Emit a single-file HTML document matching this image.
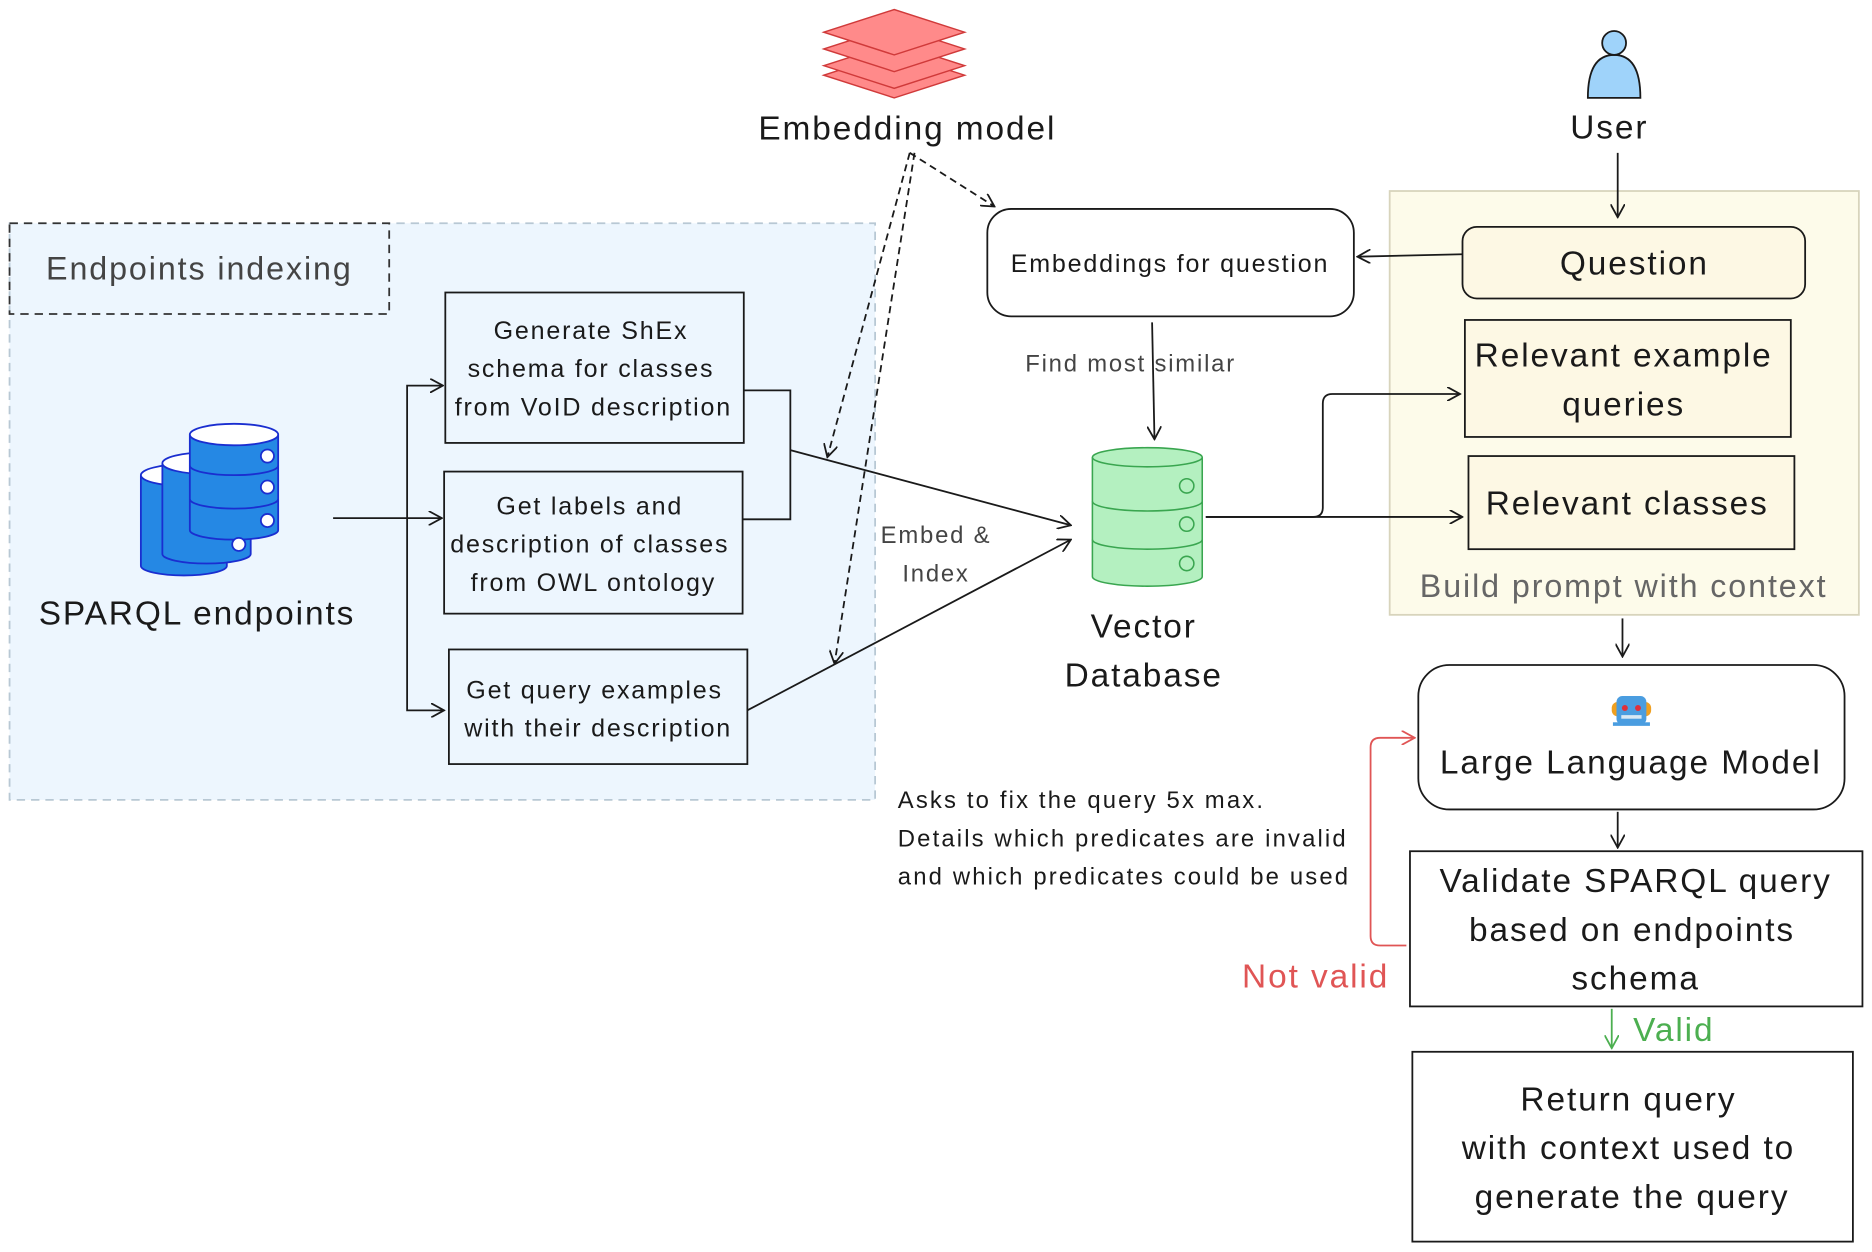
<!DOCTYPE html>
<html><head><meta charset="utf-8"><style>
html,body{margin:0;padding:0;background:#fff;}
svg{display:block;}
text{font-family:"Liberation Sans",sans-serif;fill:#1a1a1a;letter-spacing:1.6px;}
.s text, text.s{letter-spacing:1.5px;}
.t text{letter-spacing:1.8px;}
</style></head><body>
<svg width="1872" height="1252" viewBox="0 0 1568 1048.7" preserveAspectRatio="none" xmlns="http://www.w3.org/2000/svg">
<defs>
<marker id="a" viewBox="0 0 12 12" refX="11" refY="6" markerWidth="12" markerHeight="12" markerUnits="userSpaceOnUse" orient="auto"><path d="M0,0 L11,6 L0,12" fill="none" stroke="#1a1a1a" stroke-width="1.5"/></marker>
<marker id="r" viewBox="0 0 12 12" refX="11" refY="6" markerWidth="12" markerHeight="12" markerUnits="userSpaceOnUse" orient="auto"><path d="M0,0 L11,6 L0,12" fill="none" stroke="#e05555" stroke-width="1.5"/></marker>
<marker id="g" viewBox="0 0 12 12" refX="11" refY="6" markerWidth="12" markerHeight="12" markerUnits="userSpaceOnUse" orient="auto"><path d="M0,0 L11,6 L0,12" fill="none" stroke="#4caf50" stroke-width="1.5"/></marker>
</defs>

<rect x="8" y="187" width="725" height="483" fill="#edf6fe" stroke="#b8c8d4" stroke-width="1.5" stroke-dasharray="7,5"/>
<rect x="8" y="187" width="318" height="76" fill="none" stroke="#333" stroke-width="1.5" stroke-dasharray="7,5"/>
<text x="167" y="234" font-size="27" text-anchor="middle" style="fill:#444">Endpoints indexing</text>

<g stroke="#1a2ed0" stroke-width="1.5" fill="#2588e4">
 <path d="M118,398 v76 a36,8 0 0 0 72,0 v-76"/><ellipse cx="154" cy="398" rx="36" ry="9" fill="#fff"/>
 <path d="M136,388 v76 a37,8 0 0 0 74,0 v-76"/><ellipse cx="173" cy="388" rx="37" ry="9" fill="#fff"/>
 <path d="M159,364 v80 a37,8 0 0 0 74,0 v-80"/><ellipse cx="196" cy="364" rx="37" ry="9" fill="#fff"/>
 <path d="M159,390 a37,8 0 0 0 74,0 M159,418 a37,8 0 0 0 74,0" fill="none"/>
 <circle cx="224" cy="382" r="5.5" fill="#fff"/><circle cx="224" cy="408" r="5.5" fill="#fff"/><circle cx="224" cy="436" r="5.5" fill="#fff"/>
 <circle cx="200" cy="456" r="5.5" fill="#fff"/>
</g>
<text x="165" y="523" font-size="28" text-anchor="middle">SPARQL endpoints</text>

<g stroke="#1a1a1a" stroke-width="1.5" fill="none">
 <line x1="279" y1="434" x2="370" y2="434" marker-end="url(#a)"/>
 <path d="M341,434 V323 H371" marker-end="url(#a)"/>
 <path d="M341,434 V595 H372" marker-end="url(#a)"/>
 <path d="M623,327 H662 V435 H622"/>
 <line x1="662" y1="377" x2="897" y2="440" marker-end="url(#a)"/>
 <line x1="626" y1="595" x2="897" y2="452" marker-end="url(#a)"/>
</g>

<g fill="#edf6fe" stroke="#1a1a1a" stroke-width="1.5">
<rect x="373" y="245" width="250" height="126"/>
<rect x="372" y="395" width="250" height="119"/>
<rect x="376" y="544" width="250" height="96"/>
</g>
<g class="s" font-size="21" text-anchor="middle">
<text x="495" y="284">Generate ShEx</text><text x="495" y="316">schema for classes</text><text x="497" y="348">from VoID description</text>
<text x="494" y="431">Get labels and</text><text x="494" y="463">description of classes</text><text x="497" y="495">from OWL ontology</text>
<text x="498" y="585">Get query examples</text><text x="501" y="617">with their description</text>
</g>
<g class="s" font-size="20" text-anchor="middle"><text x="784" y="455" style="fill:#444">Embed &amp;</text><text x="784" y="487" style="fill:#444">Index</text></g>

<g fill="#ff8a8a" stroke="#d03a3a" stroke-width="1.2">
<path d="M690,63 L749,44 L808,63 L749,82 Z"/>
<path d="M690,55 L749,36 L808,55 L749,74 Z"/>
<path d="M690,41 L749,22 L808,41 L749,60 Z"/>
<path d="M690,27 L749,8 L808,27 L749,46 Z"/>
</g>
<text x="760" y="117" font-size="28" text-anchor="middle">Embedding model</text>
<g stroke="#1a1a1a" stroke-width="1.5" fill="none" stroke-dasharray="6,4">
<line x1="762" y1="128" x2="833" y2="173" marker-end="url(#a)"/>
<line x1="762" y1="128" x2="693" y2="383" marker-end="url(#a)"/>
<line x1="766" y1="128" x2="699" y2="556" marker-end="url(#a)"/>
</g>

<rect x="827" y="175" width="307" height="90" rx="20" fill="#fff" stroke="#1a1a1a" stroke-width="1.5"/>
<text class="s" x="980" y="228" font-size="21" text-anchor="middle">Embeddings for question</text>
<line x1="965" y1="270" x2="967" y2="368" stroke="#1a1a1a" stroke-width="1.5" marker-end="url(#a)"/>
<text class="s" x="947" y="311" font-size="20" text-anchor="middle" style="fill:#444">Find most similar</text>

<g fill="#b4f0c0" stroke="#3aa650" stroke-width="1.3">
<path d="M915,383 V483 a46,8 0 0 0 92,0 V383"/>
<ellipse cx="961" cy="383" rx="46" ry="8"/>
<path d="M915,420 a46,8 0 0 0 92,0 M915,452 a46,8 0 0 0 92,0" fill="none"/>
<circle cx="994" cy="407" r="6" fill="none"/><circle cx="994" cy="439" r="6" fill="none"/><circle cx="994" cy="472" r="6" fill="none"/>
</g>
<text x="958" y="534" font-size="28" text-anchor="middle">Vector</text>
<text x="958" y="575" font-size="28" text-anchor="middle">Database</text>

<rect x="1164" y="160" width="393" height="355" fill="#fdfbea" stroke="#d8d4bc" stroke-width="1.5"/>
<text x="1360" y="500" font-size="27" text-anchor="middle" style="fill:#666">Build prompt with context</text>

<g stroke="#1a1a1a" stroke-width="1.5" fill="none">
<line x1="1010" y1="433" x2="1225" y2="433" marker-end="url(#a)"/>
<path d="M1010,433 H1100 Q1108,433 1108,425 V338 Q1108,330 1116,330 H1223" marker-end="url(#a)"/>
<line x1="1225" y1="213" x2="1137" y2="215" marker-end="url(#a)"/>
<line x1="1355" y1="128" x2="1355" y2="182" marker-end="url(#a)"/>
<line x1="1359" y1="518" x2="1359" y2="550" marker-end="url(#a)"/>
<line x1="1355" y1="680" x2="1355" y2="710" marker-end="url(#a)"/>
</g>

<g fill="#9fd3fa" stroke="#1a1a1a" stroke-width="1.5">
<path d="M1330,82 Q1330,46 1352,46 Q1374,46 1374,82 Z"/>
<circle cx="1352" cy="36" r="10"/>
</g>
<text x="1348" y="116" font-size="28" text-anchor="middle">User</text>

<rect x="1225" y="190" width="287" height="60" rx="12" fill="#fdf8e4" stroke="#1a1a1a" stroke-width="1.5"/>
<text x="1369" y="230" font-size="28" text-anchor="middle">Question</text>
<rect x="1227" y="268" width="273" height="98" fill="#fdf8e4" stroke="#1a1a1a" stroke-width="1.5"/>
<text x="1360" y="307" font-size="28" text-anchor="middle">Relevant example</text>
<text x="1360" y="348" font-size="28" text-anchor="middle">queries</text>
<rect x="1230" y="382" width="273" height="78" fill="#fdf8e4" stroke="#1a1a1a" stroke-width="1.5"/>
<text x="1363" y="431" font-size="28" text-anchor="middle">Relevant classes</text>

<rect x="1188" y="557" width="357" height="121" rx="26" fill="#fff" stroke="#1a1a1a" stroke-width="1.5"/>
<g>
<rect x="1350" y="588" width="33" height="12" rx="5" fill="#f0a020"/>
<rect x="1354" y="583" width="25" height="24" rx="5" fill="#4a9de0"/>
<circle cx="1361" cy="593" r="2.5" fill="#e0303a"/><circle cx="1372" cy="593" r="2.5" fill="#e0303a"/>
<rect x="1358" y="599" width="17" height="3" fill="#d8e8f4"/>
<rect x="1351" y="605" width="31" height="3" fill="#4a9de0"/>
</g>
<text x="1366" y="648" font-size="28" text-anchor="middle">Large Language Model</text>

<rect x="1181" y="713" width="379" height="130" fill="#fff" stroke="#1a1a1a" stroke-width="1.5"/>
<text x="1370" y="747" font-size="28" text-anchor="middle">Validate SPARQL query</text>
<text x="1367" y="788" font-size="28" text-anchor="middle">based on endpoints</text>
<text x="1370" y="829" font-size="28" text-anchor="middle">schema</text>

<path d="M1178,792 H1156 Q1148,792 1148,784 V626 Q1148,618 1156,618 H1185" fill="none" stroke="#e05555" stroke-width="1.5" marker-end="url(#r)"/>
<text x="1102" y="827" font-size="28" text-anchor="middle" style="fill:#e05555">Not valid</text>
<line x1="1350" y1="845" x2="1350" y2="878" stroke="#4caf50" stroke-width="1.5" marker-end="url(#g)"/>
<text x="1402" y="872" font-size="28" text-anchor="middle" style="fill:#4caf50">Valid</text>

<rect x="1183" y="881" width="369" height="159" fill="#fff" stroke="#1a1a1a" stroke-width="1.5"/>
<text x="1364" y="930" font-size="28" text-anchor="middle">Return query</text>
<text x="1364" y="971" font-size="28" text-anchor="middle">with context used to</text>
<text x="1367" y="1012" font-size="28" text-anchor="middle">generate the query</text>

<g class="t" font-size="20">
<text x="752" y="677">Asks to fix the query 5x max.</text>
<text x="752" y="709">Details which predicates are invalid</text>
<text x="752" y="741">and which predicates could be used</text>
</g>
</svg>
</body></html>
